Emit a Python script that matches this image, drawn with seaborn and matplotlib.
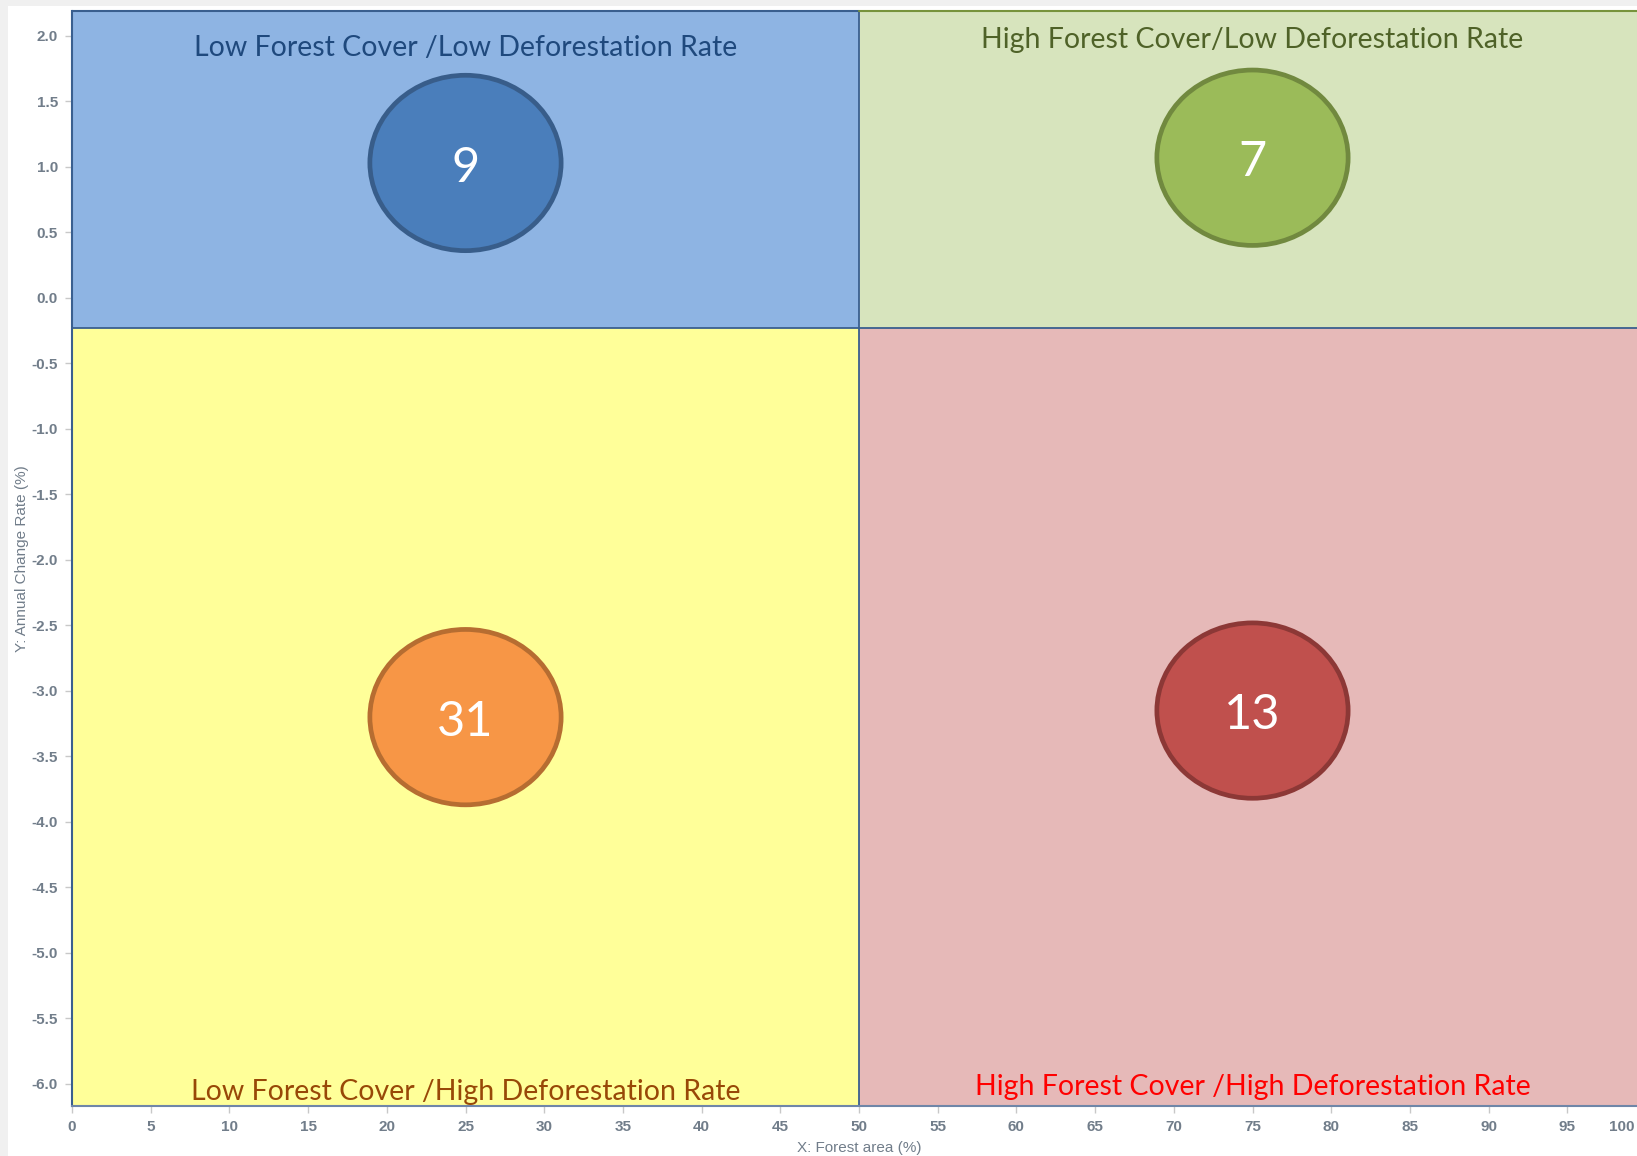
import numpy as np
import pandas as pd
import matplotlib
matplotlib.use("Agg")
import matplotlib.pyplot as plt
import matplotlib.transforms as mtransforms
from matplotlib.path import Path
from matplotlib.patches import Rectangle
import seaborn as sns

# ---- data ----
quadrants = ["Low Forest Cover /Low Deforestation Rate",
             "High Forest Cover/Low Deforestation Rate",
             "Low Forest Cover /High Deforestation Rate",
             "High Forest Cover /High Deforestation Rate"]
forest_area = [25, 75, 25, 75]
change_rate = [1.03, 1.07, -3.2, -3.15]
counts = [9, 7, 31, 13]
x_ticks = list(range(0, 101, 5))
y_ticks = [2.0, 1.5, 1.0, 0.5, 0.0, -0.5, -1.0, -1.5, -2.0, -2.5, -3.0,
           -3.5, -4.0, -4.5, -5.0, -5.5, -6.0]
x_split = 50
y_split = -0.23

fill_colors = ["#4a7ebb", "#9bbb59", "#f79646", "#c0504d"]
edge_colors = ["#385d8a", "#71893f", "#b66d31", "#8c3836"]
bg_colors = ["#8eb4e3", "#d7e4bd", "#ffff99", "#e6b9b8"]
label_colors = ["#1f497d", "#4f6228", "#984807", "#ff0000"]

df = pd.DataFrame({"quadrant": quadrants, "x": forest_area,
                   "y": change_rate, "count": counts})

sns.set_theme(style="white")
plt.rcParams["font.family"] = ["Lato", "DejaVu Sans"]

W, H = 1637, 1156
fig = plt.figure(figsize=(W / 100, H / 100), dpi=100, facecolor="#f0f0f0")
fig.patches.append(Rectangle((8 / W, 0), 1, 1 - 6 / H, transform=fig.transFigure,
                             facecolor="white", edgecolor="none", zorder=-10))

ax = fig.add_axes([72 / W, 1 - 1105.7 / H, (1646 - 72) / W, (1105.7 - 11) / H])
xmin, xmax = 0, 100
ymin, ymax = -6.166, 2.19
ax.set_xlim(xmin, xmax)
ax.set_ylim(ymin, ymax)

# quadrant backgrounds
ax.fill_between([xmin, x_split], y_split, ymax, color=bg_colors[0], lw=0, zorder=0)
ax.fill_between([x_split, xmax], y_split, ymax, color=bg_colors[1], lw=0, zorder=0)
ax.fill_between([xmin, x_split], ymin, y_split, color=bg_colors[2], lw=0, zorder=0)
ax.fill_between([x_split, xmax], ymin, y_split, color=bg_colors[3], lw=0, zorder=0)
ax.axvline(x_split, color="#3a5f8f", lw=1.3, zorder=1)
ax.axhline(y_split, color="#3a5f8f", lw=1.3, zorder=1)
ax.plot([xmin, x_split], [ymax, ymax], color="#3a5f8f", lw=1.5, zorder=1, clip_on=False)
ax.plot([x_split, xmax], [ymax, ymax], color="#77933c", lw=1.5, zorder=1, clip_on=False)

# elliptical bubble marker
circ = Path.unit_circle()
ell = Path(circ.vertices * np.array([1.0, 0.917]), circ.codes)
sns.scatterplot(data=df, x="x", y="y", hue="quadrant",
                palette=dict(zip(quadrants, fill_colors)),
                marker=ell, s=137.7 ** 2, edgecolor=edge_colors,
                linewidth=3.4, legend=False, ax=ax, zorder=3)

for xv, yv, c in zip(forest_area, change_rate, counts):
    ax.text(xv, yv - 0.035, str(c), ha="center", va="center", color="white",
            fontsize=35, zorder=4)

# quadrant titles
label_pos = [(25, 1.906), (75, 1.965), (25, -6.063), (75, -6.025)]
for (lx, ly), txt, col in zip(label_pos, quadrants, label_colors):
    ax.text(lx, ly, txt, ha="center", va="center", color=col, fontsize=20.5,
            zorder=5)

ax.set_xticks(x_ticks)
ax.set_yticks(y_ticks)
ax.set_xticklabels([str(v) for v in x_ticks])
ax.set_yticklabels([f"{v:.1f}" for v in y_ticks])
for lab in ax.get_xticklabels() + ax.get_yticklabels():
    lab.set_fontfamily(["Liberation Sans", "DejaVu Sans"])
    lab.set_fontweight("bold")
    lab.set_fontsize(11)
    lab.set_color("#717d8a")
ax.tick_params(axis="both", which="major", direction="out", length=5, width=1,
               color="#c8c8c8", bottom=True, left=True, pad=5)

# keep the last x tick label ("100") inside the figure edge
last = ax.get_xticklabels()[-1]
last.set_horizontalalignment("right")
last.set_transform(last.get_transform() +
                   mtransforms.ScaledTranslation(-12 / 100, 0, fig.dpi_scale_trans))

ax.set_xlabel("X: Forest area (%)", fontfamily=["Liberation Sans", "DejaVu Sans"],
              fontsize=11, color="#717d8a", labelpad=5)
ax.set_ylabel("Y: Annual Change Rate (%)", fontfamily=["Liberation Sans", "DejaVu Sans"],
              fontsize=11, color="#717d8a", labelpad=2)

for s in ["top", "right"]:
    ax.spines[s].set_visible(False)
ax.spines["left"].set_color("#3a5f8f")
ax.spines["left"].set_linewidth(1.5)
ax.spines["bottom"].set_color("#6f86a8")
ax.spines["bottom"].set_linewidth(1.5)
ax.grid(False)

fig.savefig("out.png", dpi=100, facecolor=fig.get_facecolor())
